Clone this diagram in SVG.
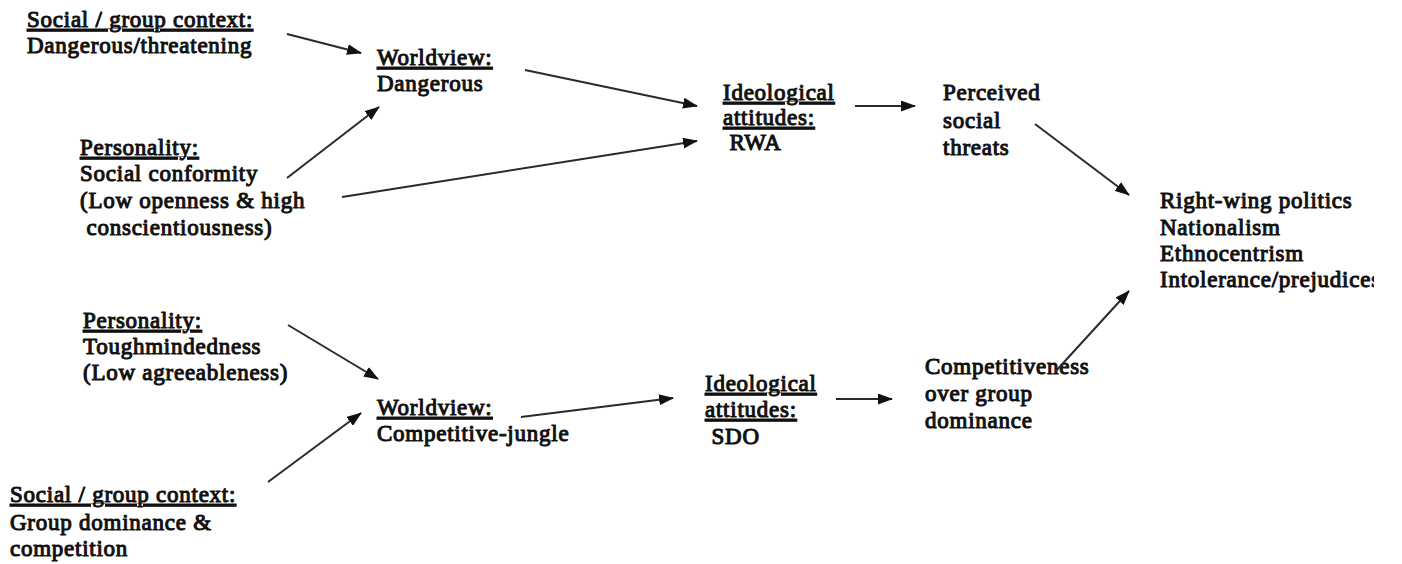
<svg xmlns="http://www.w3.org/2000/svg" width="1402" height="564" viewBox="0 0 1402 564">
  <style>
    .t { font-family: 'Liberation Serif', 'Times New Roman', serif; font-size: 23px; letter-spacing: 0.75px; fill: #111; stroke: #111; stroke-width: 1.05px; stroke-linejoin: round; }
    .u { text-decoration: underline; }
    .edge { stroke: #2a2a2a; stroke-width: 2; fill: none; marker-end: url(#arrow); }
  </style>
  <defs>
    <marker id="arrow" markerWidth="15" markerHeight="11" refX="14" refY="5.5" orient="auto" markerUnits="userSpaceOnUse">
      <path d="M0,0 L15,5.5 L0,11 Z" fill="#111"/>
    </marker>
    <clipPath id="edge-clip">
      <rect x="0" y="0" width="1374" height="564"/>
    </clipPath>
  </defs>
  <rect width="1402" height="564" fill="#fff"/>

  <g class="t">
    <g id="ctx-danger">
      <text x="27" y="27" class="u">Social / group context:</text>
      <text x="27" y="53">Dangerous/threatening</text>
    </g>
    <g id="worldview-danger">
      <text x="377" y="65" class="u">Worldview:</text>
      <text x="377" y="91">Dangerous</text>
    </g>
    <g id="personality-conformity">
      <text x="80" y="155" class="u">Personality:</text>
      <text x="80" y="181">Social conformity</text>
      <text x="80" y="208">(Low openness &amp; high</text>
      <text x="80" y="235" xml:space="preserve"> conscientiousness)</text>
    </g>
    <g id="rwa">
      <text x="723" y="100" class="u">Ideological</text>
      <text x="723" y="125" class="u">attitudes:</text>
      <text x="723" y="150" xml:space="preserve"> RWA</text>
    </g>
    <g id="threats">
      <text x="943" y="100">Perceived</text>
      <text x="943" y="128">social</text>
      <text x="943" y="155">threats</text>
    </g>
    <g id="outcomes" clip-path="url(#edge-clip)">
      <text x="1160" y="208">Right-wing politics</text>
      <text x="1160" y="235">Nationalism</text>
      <text x="1160" y="261">Ethnocentrism</text>
      <text x="1160" y="287">Intolerance/prejudices</text>
    </g>
    <g id="personality-tough">
      <text x="83" y="328" class="u">Personality:</text>
      <text x="83" y="354">Toughmindedness</text>
      <text x="83" y="380">(Low agreeableness)</text>
    </g>
    <g id="worldview-jungle">
      <text x="377" y="415" class="u">Worldview:</text>
      <text x="377" y="441">Competitive-jungle</text>
    </g>
    <g id="sdo">
      <text x="705" y="391" class="u">Ideological</text>
      <text x="705" y="417" class="u">attitudes:</text>
      <text x="705" y="444" xml:space="preserve"> SDO</text>
    </g>
    <g id="competitiveness">
      <text x="925" y="374">Competitiveness</text>
      <text x="925" y="401">over group</text>
      <text x="925" y="428">dominance</text>
    </g>
    <g id="ctx-dominance">
      <text x="10" y="502" class="u">Social / group context:</text>
      <text x="10" y="530">Group dominance &amp;</text>
      <text x="10" y="556">competition</text>
    </g>
  </g>

  <g id="connectors">
    <line class="edge" x1="287" y1="34" x2="361" y2="53"/>
    <line class="edge" x1="287" y1="178" x2="379" y2="107"/>
    <line class="edge" x1="525" y1="70" x2="697" y2="106"/>
    <line class="edge" x1="342" y1="197" x2="697" y2="141"/>
    <line class="edge" x1="855" y1="106" x2="915" y2="106"/>
    <line class="edge" x1="1035" y1="124" x2="1129" y2="195"/>
    <line class="edge" x1="1055" y1="372" x2="1129" y2="291"/>
    <line class="edge" x1="288" y1="325" x2="378" y2="379"/>
    <line class="edge" x1="268" y1="482" x2="361" y2="413"/>
    <line class="edge" x1="521" y1="417" x2="673" y2="398"/>
    <line class="edge" x1="836" y1="399" x2="892" y2="399"/>
  </g>
</svg>
